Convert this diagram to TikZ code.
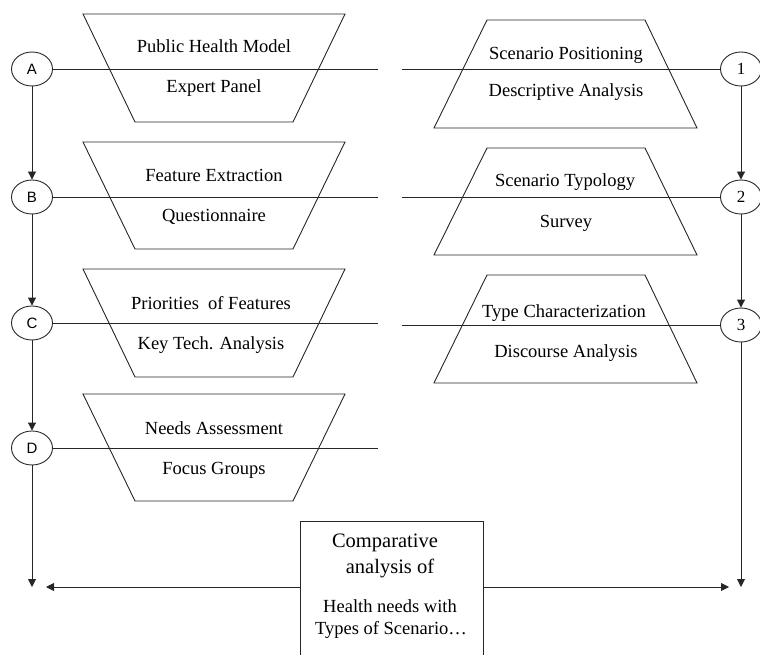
\documentclass[tikz,border=0pt]{standalone}
\usepackage{fontspec}
\setmainfont{Liberation Serif}
\newfontfamily\sansfont{Liberation Sans}
\usetikzlibrary{shapes.geometric,arrows.meta}
\tikzset{
  stage/.style={draw, ellipse, minimum width=41pt, minimum height=34pt, inner sep=0pt},
  letter/.style={stage, font=\sansfont\fontsize{15}{17}\selectfont},
  digit/.style={stage, font=\fontsize{17}{19}\selectfont},
  txt/.style={anchor=base, inner sep=0pt, font=\fontsize{18.5}{22}\selectfont},
  flow/.style={-{Triangle[length=8pt,width=8pt]}},
}
\begin{document}
\begin{tikzpicture}[x=1pt,y=-1pt,line width=0.9pt,draw=black!85]
\clip (0,0) rectangle (760,655);
% left funnels
\draw (83,14) -- (345,14) -- (293,122) -- (135,122) -- cycle;
\draw (83,142) -- (345,142) -- (293,249) -- (135,249) -- cycle;
\draw (83,269) -- (345,269) -- (293,377) -- (135,377) -- cycle;
\draw (83,394) -- (345,394) -- (293,501) -- (135,501) -- cycle;
\node[txt] (pubHealth) at (214,53) {Public Health Model};
\node[txt] (expert) at (214,93) {Expert Panel};
\node[txt] (featExt) at (214,182) {Feature Extraction};
\node[txt] (quest) at (214,222) {Questionnaire};
\node[txt] (prio) at (211,309) {Priorities~ of Features};
\node[txt] (keyTech) at (211,349) {Key Tech. Analysis};
\node[txt] (needs) at (214,434) {Needs Assessment};
\node[txt] (focus) at (214,474) {Focus Groups};
% right funnels
\draw (487,20) -- (645,20) -- (697,128) -- (434,128) -- cycle;
\draw (487,148) -- (645,148) -- (697,255) -- (434,255) -- cycle;
\draw (487,275) -- (645,275) -- (697,383) -- (434,383) -- cycle;
\node[txt] (scenPos) at (566,60) {Scenario Positioning};
\node[txt] (descr) at (566,97) {Descriptive Analysis};
\node[txt] (scenTyp) at (565,187) {Scenario Typology};
\node[txt] (survey) at (566,227) {Survey};
\node[txt] (typeChar) at (564,317) {Type Characterization};
\node[txt] (discourse) at (566,357) {Discourse Analysis};
% stages
\node[letter] (A) at (32,69) {A};
\node[letter] (B) at (32,197) {B};
\node[letter] (C) at (32,323) {C};
\node[letter] (D) at (32,448) {D};
\node[digit] (1) at (741,69) {1};
\node[digit] (2) at (741,197) {2};
\node[digit] (3) at (741,325) {3};
\coordinate (aEnd) at (378,69);
\coordinate (bEnd) at (378,197);
\coordinate (cEnd) at (378,323);
\coordinate (dEnd) at (378,448);
\coordinate (oneEnd) at (402,69);
\coordinate (twoEnd) at (402,197);
\coordinate (threeEnd) at (402,325);
\draw (A) -- (aEnd);
\draw (B) -- (bEnd);
\draw (C) -- (cEnd);
\draw (D) -- (dEnd);
\draw (oneEnd) -- (1);
\draw (twoEnd) -- (2);
\draw (threeEnd) -- (3);
\draw[flow] (A) -- (B);
\draw[flow] (B) -- (C);
\draw[flow] (C) -- (D);
\draw[flow] (1) -- (2);
\draw[flow] (2) -- (3);
% comparison
\node[draw, anchor=north west, minimum width=183pt, minimum height=150pt, inner sep=0pt] (cmp) at (300,521) {};
\node[txt, font=\fontsize{20.5}{24}\selectfont] (cmpA) at (385,547) {Comparative};
\node[txt, font=\fontsize{20.5}{24}\selectfont] (cmpB) at (390,573) {analysis of};
\node[txt] (cmpC) at (390,612) {Health needs with};
\node[txt] (cmpD) at (391,634) {Types of Scenario…};
\coordinate (leftEnd) at (32,587);
\coordinate (rightEnd) at (741,587);
\coordinate (hL) at (46,587);
\coordinate (hR) at (729,587);
\draw[flow] (D) -- (leftEnd);
\draw[flow] (3) -- (rightEnd);
\draw[flow] (cmp.west |- hL) -- (hL);
\draw[flow] (cmp.east |- hR) -- (hR);
\end{tikzpicture}
\end{document}
